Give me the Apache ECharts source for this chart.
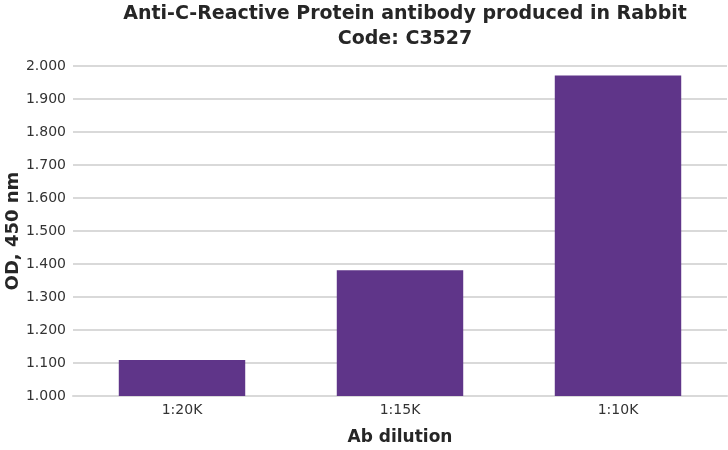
<!DOCTYPE html>
<html>
  <head>
    <meta charset="utf-8" />
    <title>Anti-C-Reactive Protein antibody</title>
    <script src="https://cdn.jsdelivr.net/npm/echarts@6/dist/echarts.min.js"></script>
    <style>
      html, body { margin: 0; padding: 0; background: #fff; }
    </style>
  </head>
  <body>
    <div id="chart" style="width: 728px; height: 450px"></div>
    <script type="text/javascript">
      // data
      var dilutions = ["1:20K", "1:15K", "1:10K"];
      var odValues = [1.109, 1.381, 1.971];

      var chartDom = document.getElementById("chart");
      var myChart = echarts.init(chartDom);
      var option;

      option = {
        animation: false,
        textStyle: { fontFamily: "DejaVu Sans" },
        title: {
          text: "Anti-C-Reactive Protein antibody produced in Rabbit\nCode: C3527",
          left: 400,
          textAlign: "center",
          top: -3,
          textStyle: {
            fontSize: 19,
            fontWeight: "bold",
            color: "#262626",
            lineHeight: 25,
            fontFamily: "DejaVu Sans",
          },
        },
        grid: {
          left: 73,
          right: 1,
          top: 66,
          bottom: 54,
          outerBoundsMode: "none",
          containLabel: false,
        },
        xAxis: {
          type: "category",
          data: dilutions,
          name: "Ab dilution",
          nameLocation: "middle",
          nameGap: 33,
          nameMoveOverlap: false,
          nameTextStyle: {
            fontSize: 17,
            fontWeight: "bold",
            color: "#262626",
          },
          axisLine: { lineStyle: { color: "#d9d9d9", width: 2 } },
          axisTick: { show: false },
          axisLabel: { fontSize: 14, color: "#333", margin: 7 },
        },
        yAxis: {
          type: "value",
          min: 1,
          max: 2,
          interval: 0.1,
          name: "OD, 450 nm",
          nameLocation: "middle",
          nameGap: 51,
          nameMoveOverlap: false,
          nameTextStyle: {
            fontSize: 18,
            fontWeight: "bold",
            color: "#262626",
          },
          axisLine: { show: false },
          axisTick: { show: false },
          axisLabel: {
            fontSize: 14,
            color: "#333",
            margin: 7,
            formatter: function (v) {
              return v.toFixed(3);
            },
          },
          splitLine: { lineStyle: { color: "#d9d9d9", width: 2 } },
        },
        series: [
          {
            type: "bar",
            data: odValues,
            barWidth: "58%",
            itemStyle: { color: "#5f3589" },
          },
        ],
      };

      option && myChart.setOption(option);
    </script>
  </body>
</html>
